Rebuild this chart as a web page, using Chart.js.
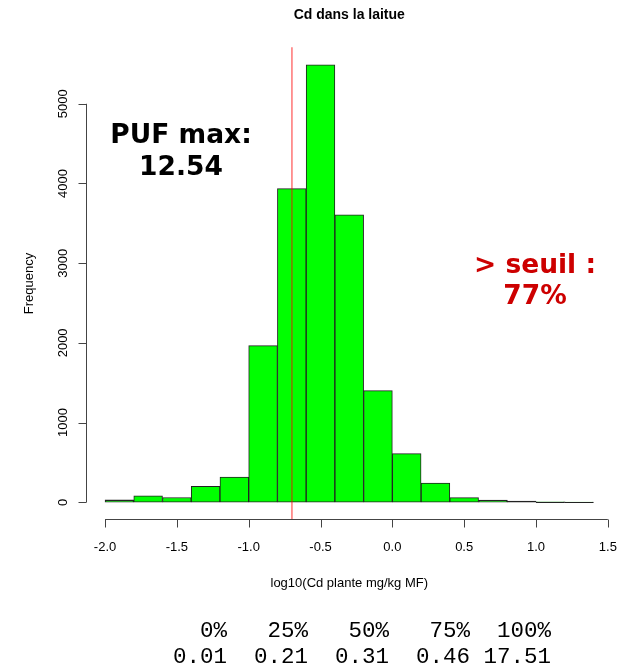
<!DOCTYPE html>
<html>
<head>
<meta charset="utf-8">
<script src="https://cdn.jsdelivr.net/npm/chart.js@4.4.1/dist/chart.umd.min.js"></script>
<style>
html,body{margin:0;padding:0;background:#fff;}
#wrap{width:628px;height:667px;}
</style>
</head>
<body>
<div id="wrap"><canvas id="c" width="628" height="667"></canvas></div>
<script>
// ---- data ----
const binLower = [-2.0,-1.8,-1.6,-1.4,-1.2,-1.0,-0.8,-0.6,-0.4,-0.2,0.0,0.2,0.4,0.6,0.8,1.0,1.2];
const binWidth = 0.2;
const counts   = [30,80,60,200,315,1965,3935,5490,3608,1400,610,242,58,29,15,6,3];
const xTicks = [-2.0,-1.5,-1.0,-0.5,0.0,0.5,1.0,1.5];
const xTickLabels = ["-2.0","-1.5","-1.0","-0.5","0.0","0.5","1.0","1.5"];
const yTicks = [0,1000,2000,3000,4000,5000];
const yTickLabels = ["0","1000","2000","3000","4000","5000"];
const thresholdLog = -0.699; // log10(0.2)
const quantNames  = ["0%","25%","50%","75%","100%"];
const quantValues = ["0.01","0.21","0.31","0.46","17.51"];
const titleText = "Cd dans la laitue";
const xLabel = "log10(Cd plante mg/kg MF)";
const yLabel = "Frequency";
const pufLines = ["PUF max:","12.54"];
const seuilLines = ["> seuil :","77%"];

const points = binLower.map((b,i)=>({x: b + binWidth/2, y: counts[i]}));

const decor = {
  id:'decor',
  afterDatasetsDraw(chart){
    const ctx = chart.ctx;
    const xs = chart.scales.x, ys = chart.scales.y;
    const ca = chart.chartArea;
    ctx.save();
    // outline for very small bars (R draws full rectangle borders)
    ctx.strokeStyle = '#222'; ctx.lineWidth = 1;
    const base = ys.getPixelForValue(0);
    binLower.forEach((b,i)=>{
      const top = ys.getPixelForValue(counts[i]);
      if (base - top < 3) {
        ctx.beginPath();
        ctx.moveTo(xs.getPixelForValue(b), Math.round(top)+0.5);
        ctx.lineTo(xs.getPixelForValue(b+binWidth), Math.round(top)+0.5);
        ctx.stroke();
      }
    });
    // threshold line
    ctx.strokeStyle = 'rgba(255,0,0,0.55)';
    ctx.lineWidth = 1.5;
    const tx = xs.getPixelForValue(thresholdLog);
    ctx.beginPath(); ctx.moveTo(tx, ca.top); ctx.lineTo(tx, ca.bottom); ctx.stroke();

    // axes
    ctx.strokeStyle = '#444';
    ctx.lineWidth = 1;
    const axY = Math.round(ca.bottom)-0.5;
    ctx.beginPath();
    ctx.moveTo(xs.getPixelForValue(xTicks[0]), axY);
    ctx.lineTo(xs.getPixelForValue(xTicks[xTicks.length-1]), axY);
    xTicks.forEach(v=>{ const px=Math.round(xs.getPixelForValue(v))+0.5; ctx.moveTo(px,axY); ctx.lineTo(px,axY+8); });
    const axX = Math.round(ca.left)+0.5;
    ctx.moveTo(axX, ys.getPixelForValue(yTicks[0]));
    ctx.lineTo(axX, ys.getPixelForValue(yTicks[yTicks.length-1]));
    yTicks.forEach(v=>{ const py=Math.round(ys.getPixelForValue(v))+0.5; ctx.moveTo(axX,py); ctx.lineTo(axX-8,py); });
    ctx.stroke();

    ctx.fillStyle = '#000';
    ctx.font = '13px "Liberation Sans", Arial, sans-serif';
    ctx.textAlign = 'center'; ctx.textBaseline = 'alphabetic';
    xTicks.forEach((v,i)=>{ ctx.fillText(xTickLabels[i], xs.getPixelForValue(v), 551); });
    yTicks.forEach((v,i)=>{
      ctx.save(); ctx.translate(67, ys.getPixelForValue(v)); ctx.rotate(-Math.PI/2);
      ctx.fillText(yTickLabels[i], 0, 0); ctx.restore();
    });
    const cx = (ca.left+ca.right)/2;
    ctx.fillText(xLabel, cx, 587);
    ctx.save(); ctx.translate(33, (ca.top+ca.bottom)/2); ctx.rotate(-Math.PI/2);
    ctx.fillText(yLabel, 0, 0); ctx.restore();

    ctx.font = 'bold 14px "Liberation Sans", Arial, sans-serif';
    ctx.fillText(titleText, cx, 19);

    // annotations
    ctx.font = 'bold 26.5px "DejaVu Sans", sans-serif';
    ctx.fillStyle = '#000';
    ctx.fillText(pufLines[0], 181, 143);
    ctx.fillText(pufLines[1], 181, 175);
    ctx.fillStyle = '#CD0000';
    ctx.fillText(seuilLines[0], 535, 273);
    ctx.fillText(seuilLines[1], 535, 304);

    // quantile table (R prints with a common column width)
    ctx.fillStyle = '#000';
    ctx.font = '22.5px "Liberation Mono", monospace';
    ctx.textAlign = 'right';
    const w = Math.max(...quantNames.map(s=>s.length), ...quantValues.map(s=>s.length));
    const l1 = quantNames.map(n=>n.padStart(w)).join(' ');
    const l2 = quantValues.map(n=>n.padStart(w)).join(' ');
    ctx.fillText(l1, 551, 637);
    ctx.fillText(l2, 551, 663);
    ctx.restore();
  }
};

new Chart(document.getElementById('c'), {
  type: 'bar',
  data: { datasets: [{
    data: points,
    backgroundColor: '#00FF00',
    borderColor: '#222',
    borderWidth: 1,
    borderSkipped: false,
    barPercentage: 1.0,
    categoryPercentage: 1.0
  }]},
  options: {
    responsive: false,
    animation: false,
    devicePixelRatio: 1,
    layout: { padding: { left: 85.5, right: 15, top: 47.2, bottom: 147.2 } },
    plugins: { legend: {display:false}, tooltip: {enabled:false}, title:{display:false} },
    scales: {
      x: { type: 'linear', min: -2.136, max: 1.536, display: false, offset: false },
      y: { type: 'linear', min: -220, max: 5710, display: false }
    }
  },
  plugins: [decor]
});
</script>
</body>
</html>
